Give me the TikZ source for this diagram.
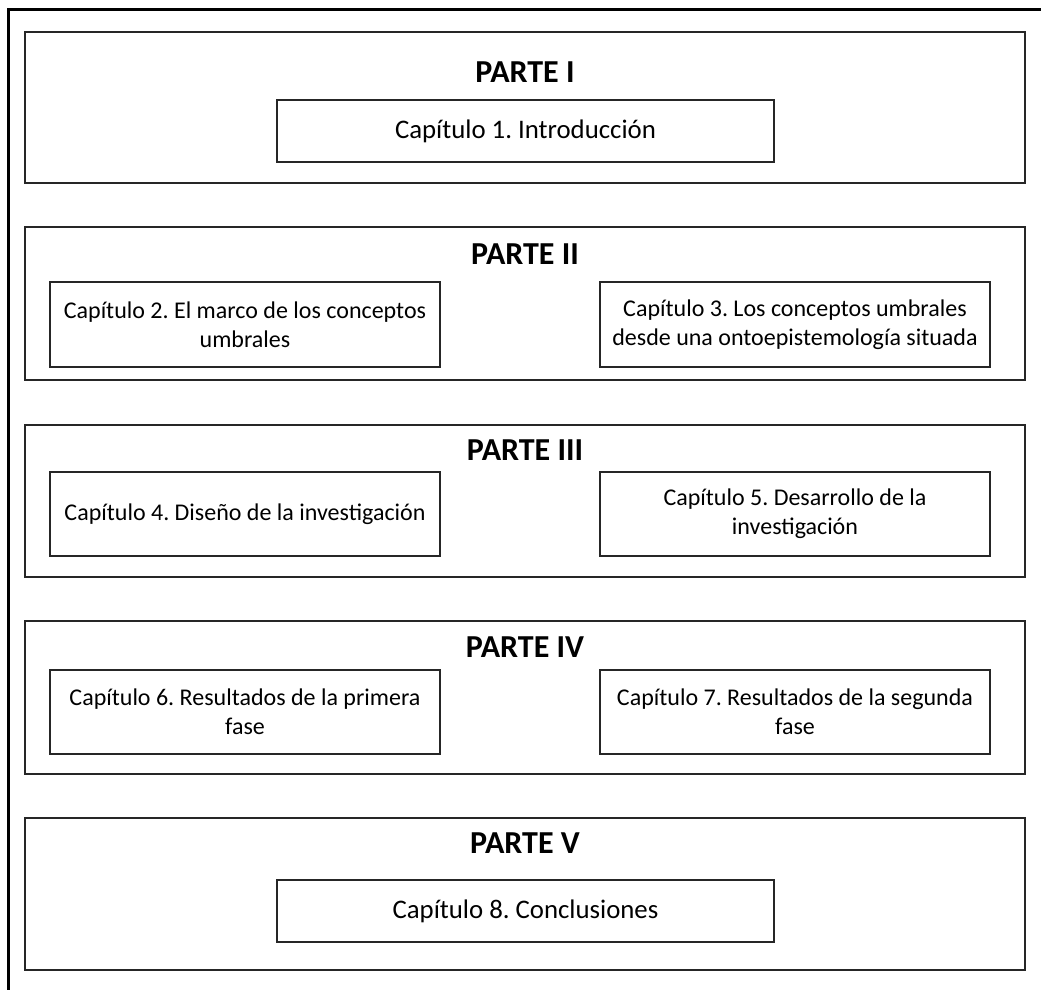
\documentclass[tikz,border=0pt]{standalone}
\usepackage{fontspec}
\setmainfont{Carlito}
\frenchspacing
\begin{document}
\begin{tikzpicture}[x=1pt,y=-1pt,
  sect/.style={draw=black!85,line width=1.6pt,minimum width=1000pt,inner sep=0pt},
  chap/.style={draw=black!85,line width=1.4pt,inner sep=0pt,align=center,font=\fontsize{24}{29}\selectfont},
  chapbig/.style={draw=black!85,line width=1.4pt,inner sep=0pt,align=center,font=\fontsize{26.8}{32}\selectfont,minimum width=497pt,minimum height=62pt},
  chapsmall/.style={chap,minimum width=390pt,minimum height=85pt},
  ttl/.style={font=\bfseries\fontsize{32}{38}\selectfont,inner sep=0pt}]
\useasboundingbox (0,0) rectangle (1041,990);
\fill[white] (0,0) rectangle (1041,990);
\draw[line width=3pt] (8.5,990) -- (8.5,10) -- (1041,10);
% Part I
\node[sect,minimum height=151pt] (p1) at (525,107.5) {};
\node[ttl] (t1) at (525,72) {PARTE I};
\node[chapbig] (c1) at (525.5,131) {Capítulo 1. Introducción};
% Part II
\node[sect,minimum height=153pt] (p2) at (525,303.5) {};
\node[ttl] (t2) at (525,253.7) {PARTE II};
\node[chapsmall] (c2) at (245,324.5) {Capítulo 2. El marco de los conceptos\\umbrales};
\node[chapsmall] (c3) at (795,324.5) {Capítulo 3. Los conceptos umbrales\\desde una ontoepistemología situada};
% Part III
\node[sect,minimum height=152pt] (p3) at (525,501) {};
\node[ttl] (t3) at (525,450) {PARTE III};
\node[chapsmall,minimum height=84pt] (c4) at (245,514) {Capítulo 4. Diseño de la investigación};
\node[chapsmall,minimum height=84pt] (c5) at (795,514) {Capítulo 5. Desarrollo de la\\investigación};
% Part IV
\node[sect,minimum height=153pt] (p4) at (525,697.5) {};
\node[ttl] (t4) at (525,647) {PARTE IV};
\node[chapsmall,minimum height=84pt] (c6) at (245,712) {Capítulo 6. Resultados de la primera\\fase};
\node[chapsmall,minimum height=84pt] (c7) at (795,712) {Capítulo 7. Resultados de la segunda\\fase};
% Part V
\node[sect,minimum height=152pt] (p5) at (525,894) {};
\node[ttl] (t5) at (525,843) {PARTE V};
\node[chapbig] (c8) at (525.5,911) {Capítulo 8. Conclusiones};
\end{tikzpicture}
\end{document}
